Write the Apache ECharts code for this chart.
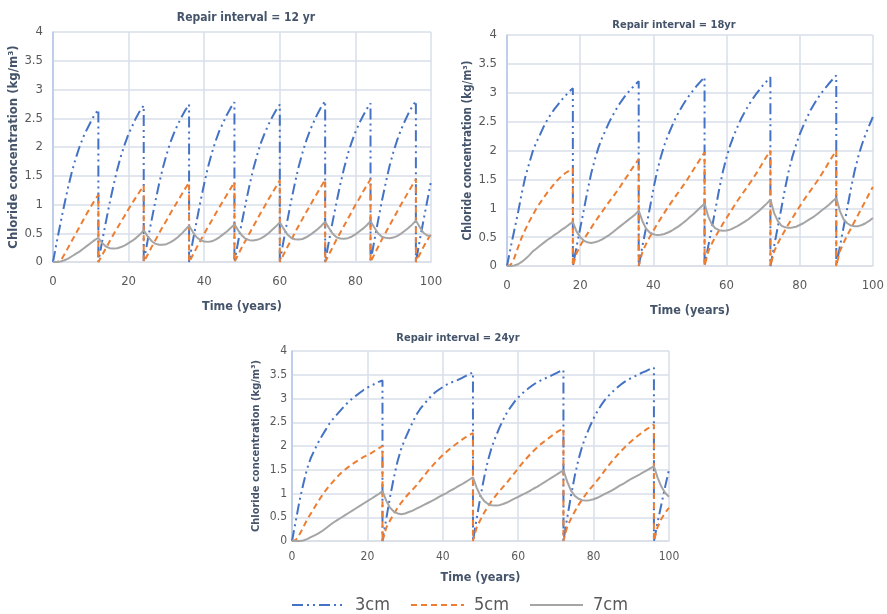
<!DOCTYPE html>
<html>
<head>
<meta charset="utf-8">
<script src="https://cdn.jsdelivr.net/npm/echarts@6/dist/echarts.min.js"></script>
<style>
html,body{margin:0;padding:0;background:#fff;}
#chart{width:887px;height:614px;}
</style>
</head>
<body>
<div id="chart"></div>
<script>
// ---- Data ----
const seriesNames = ['3cm', '5cm', '7cm'];
const xTicks = [0, 20, 40, 60, 80, 100];
const yTicks = [0, 0.5, 1, 1.5, 2, 2.5, 3, 3.5, 4];

// repair years: each appears twice in the time axis (before / after repair)
const repairs12 = [12, 24, 36, 48, 60, 72, 84, 96];
const repairs18 = [18, 36, 54, 72, 90];
const repairs24 = [24, 48, 72, 96];

// Repair interval = 12 yr
const c12_3 = [
  0,0.35,0.68,1.0,1.3,1.57,1.8,2.0,2.17,2.31,2.44,2.56,2.65,
  0,0.36,0.70,1.03,1.33,1.61,1.85,2.05,2.23,2.37,2.51,2.63,2.72,
  0,0.36,0.70,1.03,1.34,1.62,1.86,2.07,2.24,2.39,2.52,2.64,2.74,
  0,0.37,0.71,1.05,1.36,1.65,1.89,2.10,2.28,2.42,2.56,2.68,2.78,
  0,0.36,0.70,1.03,1.34,1.62,1.86,2.07,2.24,2.39,2.52,2.64,2.74,
  0,0.37,0.72,1.06,1.37,1.66,1.90,2.11,2.29,2.44,2.58,2.70,2.80,
  0,0.36,0.71,1.04,1.35,1.63,1.88,2.08,2.26,2.41,2.54,2.66,2.76,
  0,0.37,0.72,1.06,1.37,1.66,1.90,2.11,2.29,2.44,2.58,2.70,2.80,
  0,0.37,0.72,1.06,1.40
];
const c12_5 = [
  0,0,0.02,0.13,0.25,0.37,0.49,0.61,0.73,0.85,0.96,1.07,1.17,
  0,0.12,0.24,0.36,0.48,0.59,0.70,0.81,0.92,1.03,1.13,1.23,1.33,
  0,0.12,0.25,0.37,0.49,0.61,0.72,0.84,0.95,1.06,1.17,1.28,1.38,
  0,0.12,0.25,0.37,0.49,0.61,0.72,0.84,0.95,1.06,1.17,1.28,1.39,
  0,0.13,0.26,0.38,0.50,0.62,0.74,0.86,0.97,1.09,1.20,1.31,1.42,
  0,0.13,0.26,0.38,0.51,0.63,0.75,0.87,0.98,1.10,1.21,1.32,1.43,
  0,0.13,0.26,0.39,0.51,0.63,0.75,0.87,0.99,1.10,1.22,1.33,1.44,
  0,0.13,0.26,0.39,0.51,0.63,0.75,0.87,0.99,1.10,1.22,1.33,1.44,
  0,0.13,0.26,0.38,0.48
];
const c12_7 = [
  0,0,0.01,0.03,0.06,0.10,0.14,0.18,0.23,0.28,0.33,0.38,0.42,
  0.42,0.33,0.27,0.24,0.235,0.24,0.26,0.29,0.33,0.37,0.42,0.48,0.55,
  0.55,0.45,0.37,0.32,0.30,0.30,0.31,0.34,0.38,0.43,0.49,0.56,0.63,
  0.63,0.52,0.43,0.38,0.355,0.35,0.36,0.39,0.43,0.48,0.53,0.59,0.655,
  0.655,0.55,0.46,0.40,0.38,0.375,0.385,0.41,0.45,0.50,0.56,0.62,0.69,
  0.69,0.58,0.48,0.42,0.395,0.39,0.40,0.43,0.47,0.52,0.57,0.63,0.70,
  0.70,0.59,0.49,0.43,0.41,0.405,0.415,0.44,0.48,0.53,0.58,0.64,0.71,
  0.71,0.60,0.50,0.44,0.42,0.415,0.425,0.45,0.49,0.54,0.59,0.65,0.72,
  0.72,0.61,0.51,0.46,0.45
];

// Repair interval = 18 yr
const c18_3 = [
  0,0.32,0.62,0.92,1.25,1.54,1.76,1.98,2.14,2.27,2.41,2.53,2.63,2.72,2.80,2.88,2.95,3.02,3.08,
  0,0.33,0.65,0.97,1.3,1.6,1.84,2.05,2.22,2.36,2.5,2.62,2.73,2.83,2.92,3.0,3.07,3.14,3.2,
  0,0.34,0.66,0.99,1.33,1.63,1.88,2.09,2.26,2.41,2.55,2.67,2.78,2.88,2.97,3.05,3.13,3.2,3.27,
  0,0.34,0.66,0.99,1.33,1.63,1.88,2.09,2.26,2.41,2.55,2.67,2.78,2.88,2.97,3.05,3.13,3.2,3.27,
  0,0.34,0.67,1.0,1.34,1.64,1.89,2.1,2.28,2.43,2.57,2.7,2.81,2.91,3.0,3.08,3.16,3.23,3.3,
  0,0.34,0.67,1.0,1.34,1.64,1.89,2.1,2.28,2.43,2.58
];
const c18_5 = [
  0,0.02,0.14,0.32,0.49,0.63,0.76,0.88,0.99,1.09,1.18,1.27,1.35,1.43,1.50,1.56,1.61,1.65,1.69,
  0,0.22,0.35,0.46,0.56,0.66,0.76,0.85,0.94,1.03,1.12,1.2,1.29,1.38,1.48,1.57,1.67,1.76,1.85,
  0,0.24,0.38,0.5,0.61,0.72,0.82,0.92,1.02,1.11,1.2,1.29,1.38,1.47,1.57,1.67,1.77,1.87,1.97,
  0,0.25,0.39,0.51,0.62,0.73,0.83,0.93,1.03,1.13,1.22,1.31,1.4,1.49,1.59,1.69,1.8,1.9,2.0,
  0,0.25,0.39,0.51,0.62,0.73,0.83,0.93,1.03,1.13,1.22,1.31,1.4,1.49,1.59,1.69,1.8,1.9,2.0,
  0,0.26,0.40,0.53,0.65,0.77,0.89,1.01,1.13,1.25,1.37
];
const c18_7 = [
  0,0,0.01,0.03,0.07,0.12,0.18,0.25,0.3,0.35,0.4,0.45,0.49,0.54,0.58,0.63,0.67,0.72,0.76,
  0.76,0.6,0.5,0.44,0.41,0.40,0.41,0.43,0.46,0.50,0.54,0.59,0.64,0.69,0.74,0.79,0.84,0.89,0.96,
  0.96,0.78,0.65,0.58,0.55,0.535,0.54,0.555,0.58,0.61,0.65,0.69,0.74,0.79,0.85,0.90,0.96,1.02,1.08,
  1.08,0.86,0.72,0.65,0.62,0.61,0.615,0.63,0.66,0.69,0.73,0.77,0.81,0.86,0.91,0.96,1.02,1.08,1.15,
  1.15,0.92,0.78,0.70,0.67,0.66,0.665,0.68,0.71,0.74,0.78,0.82,0.86,0.91,0.96,1.01,1.06,1.12,1.18,
  1.18,0.95,0.81,0.74,0.70,0.69,0.69,0.71,0.74,0.78,0.83
];

// Repair interval = 24 yr
const c24_3 = [
  0,0.42,0.85,1.2,1.52,1.75,1.92,2.08,2.22,2.35,2.48,2.58,2.67,2.76,2.85,2.93,3.0,3.06,3.12,3.18,3.23,3.27,3.31,3.35,3.38,
  0,0.47,0.92,1.33,1.68,1.95,2.15,2.33,2.5,2.66,2.78,2.88,2.97,3.06,3.13,3.19,3.24,3.29,3.33,3.36,3.39,3.43,3.47,3.51,3.55,
  0,0.48,0.94,1.35,1.7,1.98,2.19,2.38,2.55,2.7,2.82,2.93,3.02,3.1,3.17,3.23,3.29,3.34,3.38,3.42,3.45,3.49,3.53,3.57,3.6,
  0,0.49,0.95,1.37,1.72,2.0,2.22,2.41,2.58,2.73,2.86,2.97,3.06,3.14,3.21,3.28,3.34,3.39,3.43,3.47,3.51,3.55,3.58,3.62,3.65,
  0,0.4,0.78,1.15,1.5
];
const c24_5 = [
  0,0.02,0.14,0.29,0.45,0.58,0.71,0.84,0.96,1.07,1.17,1.26,1.35,1.43,1.5,1.56,1.62,1.67,1.72,1.77,1.81,1.85,1.9,1.95,2.0,
  0,0.28,0.43,0.57,0.7,0.81,0.91,1.0,1.08,1.17,1.27,1.37,1.47,1.56,1.65,1.73,1.81,1.88,1.95,2.01,2.07,2.13,2.18,2.23,2.27,
  0,0.29,0.45,0.6,0.73,0.85,0.95,1.05,1.14,1.23,1.33,1.43,1.53,1.63,1.72,1.81,1.89,1.97,2.04,2.1,2.16,2.22,2.28,2.33,2.37,
  0,0.3,0.47,0.62,0.76,0.88,0.99,1.09,1.18,1.28,1.38,1.49,1.59,1.69,1.78,1.87,1.95,2.03,2.1,2.17,2.23,2.29,2.35,2.4,2.45,
  0,0.3,0.47,0.6,0.7
];
const c24_7 = [
  0,0,0,0.01,0.04,0.08,0.12,0.16,0.21,0.27,0.33,0.39,0.44,0.49,0.54,0.59,0.64,0.69,0.74,0.79,0.84,0.89,0.94,0.99,1.05,
  1.05,0.85,0.70,0.62,0.58,0.565,0.58,0.61,0.64,0.68,0.72,0.76,0.8,0.84,0.88,0.93,0.97,1.01,1.06,1.1,1.15,1.19,1.24,1.29,1.34,
  1.34,1.12,0.95,0.84,0.78,0.75,0.745,0.755,0.78,0.81,0.85,0.89,0.93,0.97,1.01,1.05,1.1,1.14,1.19,1.24,1.29,1.34,1.39,1.44,1.49,
  1.49,1.25,1.06,0.95,0.89,0.86,0.85,0.86,0.88,0.91,0.95,0.99,1.03,1.07,1.12,1.17,1.21,1.26,1.31,1.35,1.39,1.44,1.48,1.53,1.57,
  1.57,1.33,1.14,1.01,0.93
];

// ---- Build time axis: integer years, repair years doubled ----
function timeAxis(repairs) {
  const t = [];
  for (let y = 0; y <= 100; y++) {
    t.push(y);
    if (repairs.indexOf(y) >= 0) t.push(y);
  }
  return t;
}
const t12 = timeAxis(repairs12), t18 = timeAxis(repairs18), t24 = timeAxis(repairs24);
function pairs(t, v) { return t.map((x, i) => [x, v[i]]); }

// ---- Styles ----
const FONT = "'DejaVu Sans Condensed', 'Liberation Sans', sans-serif";
const colors = ['#4472C4', '#ED7D31', '#A5A5A5'];
const dashes = [[11, 4, 2, 4, 2, 4], [6, 4], 'solid'];
const titleColor = '#44546A';
const labelColor = '#595959';
const gridColor = '#D9DEE8';

const grids = [
  { left: 53, top: 32, width: 378, height: 230 },
  { left: 507, top: 35, width: 369, height: 231 },
  { left: 292, top: 351, width: 377, height: 190 }
];
const xNameGap = [38, 38, 30];
const xLabelMargin = [13, 13, 10];
const yLabelMargin = [10, 10, 5];
const yNameSize = [13, 11.5, 11];
const labelSize = [13, 13, 12];

const xAxes = grids.map((g, i) => ({
  type: 'value', gridIndex: i, min: 0, max: 100, interval: 20,
  name: 'Time (years)', nameLocation: 'middle', nameGap: xNameGap[i],
  nameTextStyle: { fontFamily: FONT, fontWeight: 'bold', fontSize: 12.5, color: titleColor },
  axisLine: { show: true, lineStyle: { color: gridColor, width: 1.5 } },
  axisTick: { show: false },
  axisLabel: { margin: xLabelMargin[i], color: labelColor, fontFamily: FONT, fontSize: labelSize[i] },
  splitLine: { show: true, lineStyle: { color: gridColor, width: 1.5 } }
}));
const yAxes = grids.map((g, i) => ({
  type: 'value', gridIndex: i, min: 0, max: 4, interval: 0.5,
  name: 'Chloride concentration (kg/m\u00B3)', nameLocation: 'middle', nameGap: 30, nameRotate: 90,
  nameTextStyle: { fontFamily: FONT, fontWeight: 'bold', fontSize: yNameSize[i], color: titleColor },
  axisLine: { show: true, lineStyle: { color: '#B4C7E7', width: 1.5 } },
  axisTick: { show: false },
  axisLabel: { margin: yLabelMargin[i], color: labelColor, fontFamily: FONT, fontSize: labelSize[i] },
  splitLine: { show: true, lineStyle: { color: gridColor, width: 1.5 } }
}));

const chartData = [
  { t: t12, vals: [c12_3, c12_5, c12_7] },
  { t: t18, vals: [c18_3, c18_5, c18_7] },
  { t: t24, vals: [c24_3, c24_5, c24_7] }
];
const series = [];
chartData.forEach((cd, gi) => {
  cd.vals.forEach((v, si) => {
    series.push({
      name: seriesNames[si], type: 'line', xAxisIndex: gi, yAxisIndex: gi,
      data: pairs(cd.t, v), symbol: 'none', smooth: false,
      lineStyle: { color: colors[si], width: 2, type: dashes[si] },
      itemStyle: { color: colors[si] }
    });
  });
});

const option = {
  animation: false,
  backgroundColor: '#fff',
  title: [
    { text: 'Repair interval = 12 yr', left: 241, top: 7, textAlign: 'center',
      textStyle: { fontFamily: FONT, fontWeight: 'bold', fontSize: 12, color: titleColor } },
    { text: 'Repair interval = 18yr', left: 669, top: 15, textAlign: 'center',
      textStyle: { fontFamily: FONT, fontWeight: 'bold', fontSize: 11, color: titleColor } },
    { text: 'Repair interval = 24yr', left: 453, top: 328, textAlign: 'center',
      textStyle: { fontFamily: FONT, fontWeight: 'bold', fontSize: 11, color: titleColor } }
  ],
  legend: {
    data: seriesNames, left: 286, top: 591, itemWidth: 53, itemHeight: 14, itemGap: 20,
    itemStyle: { opacity: 0 },
    textStyle: { fontFamily: FONT, fontSize: 18, color: labelColor, padding: [0, 0, 0, 5] }
  },
  grid: grids,
  xAxis: xAxes,
  yAxis: yAxes,
  series: series
};

const chart = echarts.init(document.getElementById('chart'), null, { renderer: 'canvas' });
chart.setOption(option);
</script>
</body>
</html>
